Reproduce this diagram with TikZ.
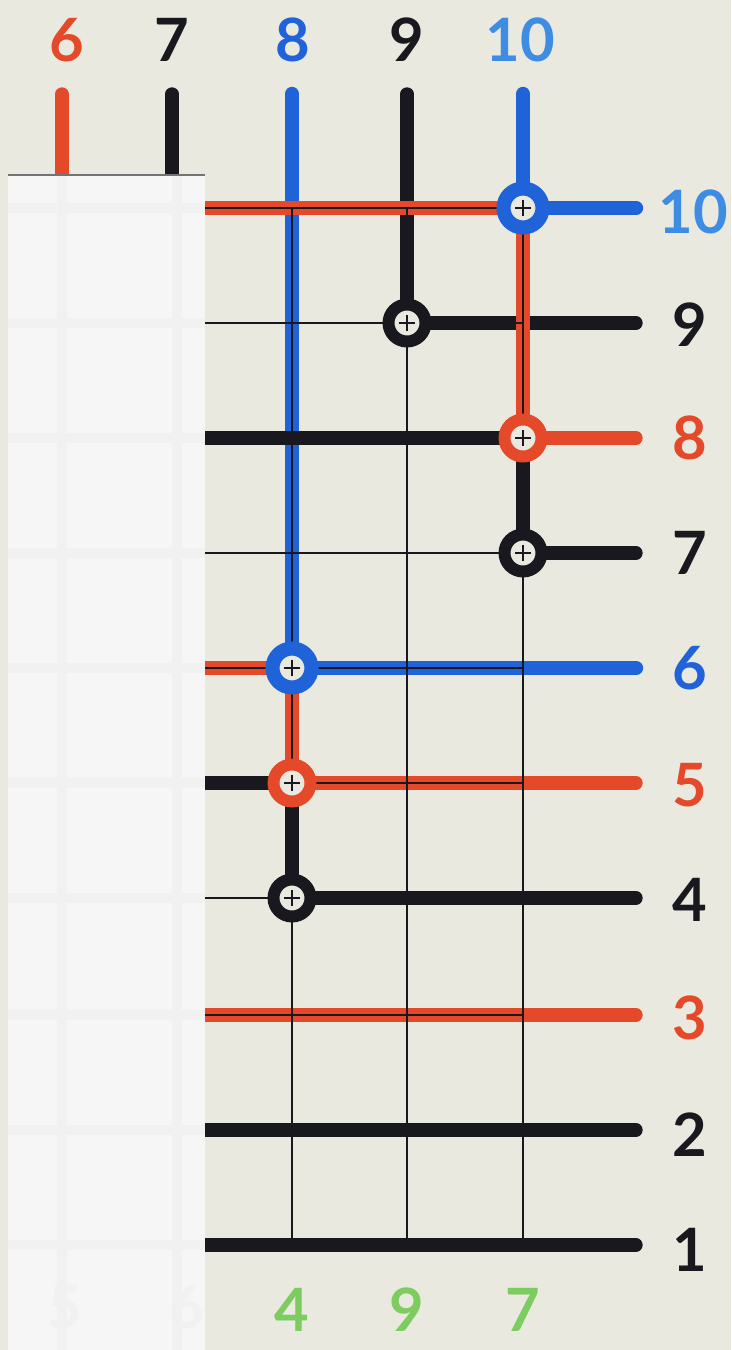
\documentclass[tikz,border=0pt]{standalone}
\usepackage{fontspec}
\setmainfont{Lato}
\usepackage{xcolor}
\usetikzlibrary{positioning}

\definecolor{paper}{RGB}{233,233,223}
\definecolor{sheet}{RGB}{246,246,246}
\definecolor{sheetline}{RGB}{241,241,241}
\definecolor{penred}{RGB}{228,74,42}
\definecolor{penblue}{RGB}{32,98,216}
\definecolor{penlight}{RGB}{62,140,228}
\definecolor{penblack}{RGB}{24,24,30}
\definecolor{pengreen}{RGB}{124,204,96}

\begin{document}
\begin{tikzpicture}[x=0.02cm, y=-0.02cm,
  marker/.style={line width=7.6pt, line cap=round},
  bluemarker/.style={line width=8.2pt, line cap=round, penblue},
  hair/.style={line width=1.3pt, penblack},
  ring/.style={circle, draw, fill=paper, inner sep=0pt, minimum size=0.74cm, line width=6.8pt},
  bigring/.style={ring, minimum size=0.78cm, line width=8pt},
  lbl/.style={font=\fontsize{34}{34}\selectfont\bfseries},
  ghost/.style={line width=6pt, sheetline}]

  \useasboundingbox (0,0) rectangle (731,1350);
  \fill[paper] (0,0) rectangle (731,1350);

  % grid points: column c, row r
  \foreach \c/\x in {6/62, 7/172, 8/292, 9/407, 10/523} {
    \coordinate (t\c) at (\x,94);
    \foreach \r/\y in {10/208, 9/323, 8/438, 7/553, 6/668, 5/783, 4/898, 3/1015, 2/1130, 1/1245}
      \coordinate (p\c-\r) at (\x,\y);
  }
  \foreach \r/\y in {10/208, 9/323, 8/438, 7/553, 6/668, 5/783, 4/898, 3/1015, 2/1130, 1/1245} {
    \coordinate (l\r) at (150,\y);
    \coordinate (e\r) at (636,\y);
  }

  % top stubs
  \draw[marker, penred] (t6) -- (p6-10);
  \draw[marker, penblack] (t7) -- (p7-10);
  \draw[bluemarker] (t8) -- (p8-6);
  \draw[marker, penblack] (t9) -- (p9-9);
  \draw[bluemarker] (t10) -- (p10-10);

  % horizontal lines
  \draw[marker, penred] (l10) -- (p10-10);
  \draw[bluemarker] (p10-10) -- (e10);
  \draw[marker, penblack] (p9-9) -- (e9);
  \draw[marker, penblack] (l8) -- (p10-8);
  \draw[marker, penred] (p10-8) -- (e8);
  \draw[marker, penblack] (p10-7) -- (e7);
  \draw[marker, penred] (l6) -- (p8-6);
  \draw[bluemarker] (p8-6) -- (e6);
  \draw[marker, penblack] (l5) -- (p8-5);
  \draw[marker, penred] (p8-5) -- (e5);
  \draw[marker, penblack] (p8-4) -- (e4);
  \draw[marker, penred] (l3) -- (e3);
  \draw[marker, penblack] (l2) -- (e2);
  \draw[marker, penblack] (l1) -- (e1);

  % vertical pieces
  \draw[marker, penred] (p10-10) -- (p10-8);
  \draw[marker, penblack] (p10-8) -- (p10-7);
  \draw[marker, penred] (p8-6) -- (p8-5);
  \draw[marker, penblack] (p8-5) -- (p8-4);

  % thin grid
  \foreach \c in {8,9,10}
    \draw[hair] (p\c-10) -- (p\c-1);
  \foreach \r in {10,...,1}
    \draw[hair] (l\r) -- (p10-\r);

  % rings
  \node[bigring, draw=penblue] (k10) at (p10-10) {};
  \node[ring, draw=penblack] (k9) at (p9-9) {};
  \node[ring, draw=penred] (k8) at (p10-8) {};
  \node[ring, draw=penblack] (k7) at (p10-7) {};
  \node[bigring, draw=penblue] (k6) at (p8-6) {};
  \node[ring, draw=penred] (k5) at (p8-5) {};
  \node[ring, draw=penblack] (k4) at (p8-4) {};
  \foreach \k in {k10,k9,k8,k7,k6,k5,k4} {
    \draw[hair] (\k.center) ++(-8,0) -- ++(16,0);
    \draw[hair] (\k.center) ++(0,-8) -- ++(0,16);
  }

  % white sheet over the left part
  \fill[sheet] (8,175) rectangle (205,1350);
  \foreach \x in {62,177}
    \draw[ghost] (\x,175) -- (\x,1350);
  \foreach \r in {10,...,1}
    \draw[ghost] (8,0 |- p6-\r) -- (205,0 |- p6-\r);
  \draw[black!55, line width=0.8pt] (8,175) -- (205,175);
  \node[lbl, text=sheetline] (g5) at (65,1307) {5};
  \node[lbl, text=sheetline] (g6) at (187,1307) {6};

  % labels on top
  \node[lbl, text=penred] (a6) at (67,40) {6};
  \node[lbl, text=penblack] (a7) at (172,40) {7};
  \node[lbl, text=penblue] (a8) at (293,40) {8};
  \node[lbl, text=penblack] (a9) at (407,40) {9};
  \node[lbl, text=penlight] (a10) at (520,40) {10};

  % labels on the right
  \node[lbl, text=penlight] (b10) at (693,212) {10};
  \node[lbl, text=penblack] (b9) at (690,325) {9};
  \node[lbl, text=penred] (b8) at (690,438) {8};
  \node[lbl, text=penblack] (b7) at (690,553) {7};
  \node[lbl, text=penblue] (b6) at (690,668) {6};
  \node[lbl, text=penred] (b5) at (690,785) {5};
  \node[lbl, text=penblack] (b4) at (690,900) {4};
  \node[lbl, text=penred] (b3) at (690,1018) {3};
  \node[lbl, text=penblack] (b2) at (690,1135) {2};
  \node[lbl, text=penblack] (b1) at (690,1250) {1};

  % labels below
  \node[lbl, text=pengreen] (c4) at (292,1310) {4};
  \node[lbl, text=pengreen] (c9) at (407,1310) {9};
  \node[lbl, text=pengreen] (c7) at (523,1310) {7};
\end{tikzpicture}
\end{document}
